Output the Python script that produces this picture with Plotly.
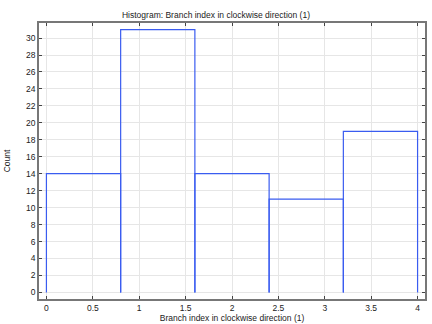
import plotly.graph_objects as go

bin_edges = [0, 0.8, 1.6, 2.4, 3.2, 4.0]
counts = [14, 31, 14, 11, 19]

xs, ys = [], []
for i, c in enumerate(counts):
    x0, x1 = bin_edges[i], bin_edges[i + 1]
    xs += [x0, x0, x1, x1, None]
    ys += [0, c, c, 0, None]

fig = go.Figure()
fig.add_trace(go.Scatter(x=xs, y=ys, mode="lines",
                         line=dict(color="#3a5cf0", width=1.2),
                         showlegend=False, hoverinfo="skip"))

font = dict(family="Liberation Sans, Arial, sans-serif", size=8.5, color="#222")
axis_common = dict(showline=True, linecolor="#777", linewidth=1.5, mirror="ticks",
                   ticks="inside", ticklen=3, tickcolor="#444",
                   showgrid=True, gridcolor="#e6e6e6", gridwidth=1,
                   zeroline=False, tickfont=font)

fig.update_layout(
    width=432, height=324,
    margin=dict(l=39, r=5, t=23, b=22),
    paper_bgcolor="white", plot_bgcolor="white",
    title=dict(text="Histogram: Branch index in clockwise direction (1)",
               x=0.5, xanchor="center", y=1 - 15 / 324, yanchor="middle", font=font),
    font=font,
)
fig.update_xaxes(range=[-0.08, 4.08], dtick=0.5, tick0=0,
                 title=dict(text="Branch index in clockwise direction (1)", font=font, standoff=0),
                 **axis_common)
fig.update_yaxes(range=[-0.775, 31.775], dtick=2, tick0=0,
                 title=dict(text="Count", font=font, standoff=14),
                 **axis_common)

fig.write_html("out.html")
